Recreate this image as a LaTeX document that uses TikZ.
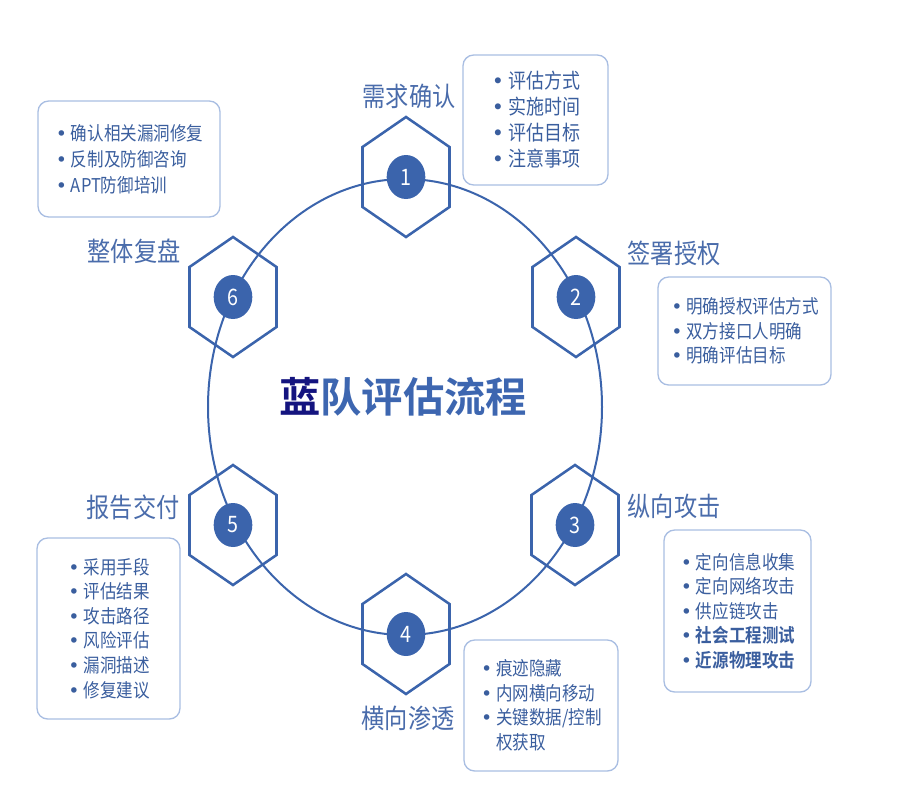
\documentclass[tikz,border=0pt]{standalone}
\usepackage{fontspec}
\setmainfont{Noto Sans CJK SC}[BoldFont={Noto Sans CJK SC Bold}]
\newfontfamily\tallfont{Noto Sans CJK SC}[FakeStretch=0.87, BoldFont={Noto Sans CJK SC Bold}]
\newfontfamily\dotfont{DejaVu Sans}
\usetikzlibrary{shapes.geometric,positioning}
\definecolor{ringblue}{HTML}{3B64AC}
\definecolor{boxline}{HTML}{A9BEE2}
\definecolor{listtext}{HTML}{3A5E9E}
\definecolor{steptext}{HTML}{4A6CAB}
\definecolor{navy}{HTML}{14147F}
\definecolor{titleblue}{HTML}{3D66B0}
\newcommand{\itm}{\makebox[0.85em][l]{\hspace{0.05em}{\dotfont\textbullet}}}

\begin{document}
\begin{tikzpicture}[
  x=0.75pt, y=-0.75pt,
  hexline/.style={draw=ringblue, line width=1.9pt, line join=miter},
  stepdot/.style={ellipse, fill=ringblue, minimum width=29pt, minimum height=33pt, inner sep=0pt, text=white, font=\tallfont\fontsize{17}{17}\selectfont},
  steplabel/.style={text=steptext, font=\tallfont\fontsize{20}{20}\selectfont},
  listbox/.style={draw=boxline, line width=1pt, rounded corners=8pt, align=left, text=listtext, inner sep=0pt, font=\tallfont\fontsize{14.25}{18.4}\selectfont}
]
  \useasboundingbox (0,0) rectangle (900,800);

  % ring and the six steps
  \draw[ringblue, line width=1.5pt] (405,407) ellipse [x radius=197, y radius=228];
  \foreach \n/\x/\y in {1/406/177, 2/576/297, 3/575/525, 4/406/634, 5/233/525, 6/233/297} {
    \coordinate (h\n) at (\x,\y);
    \draw[hexline] (h\n) ++(0,-60) -- ++(43.5,30) -- ++(0,60) -- ++(-43.5,30) -- ++(-43.5,-30) -- ++(0,-60) -- cycle;
    \node[stepdot] (n\n) at (h\n) {\n};
  }

  \node[text=titleblue, font=\bfseries\fontsize{31}{31}\selectfont] (title) at (403,397) {\textcolor{navy}{蓝}队评估流程};

  \node[steplabel] (t1) at (409,96) {需求确认};
  \node[steplabel] (t2) at (674,253) {签署授权};
  \node[steplabel] (t3) at (674,506) {纵向攻击};
  \node[steplabel] (t4) at (408,718) {横向渗透};
  \node[steplabel] (t5) at (133,507) {报告交付};
  \node[steplabel] (t6) at (134,251) {整体复盘};

  \node[listbox, minimum width=108.75pt, minimum height=97.5pt, font=\tallfont\fontsize{15.5}{19.5}\selectfont] (b1) at (535.5,120)
    {\itm 评估方式\\\itm 实施时间\\\itm 评估目标\\\itm 注意事项};
  \node[listbox, minimum width=129.75pt, minimum height=81pt] (b2) at (744.5,331)
    {\itm 明确授权评估方式\\\itm 双方接口人明确\\\itm 明确评估目标};
  \node[listbox, minimum width=110.25pt, minimum height=121.5pt] (b3) at (737.5,611)
    {\itm 定向信息收集\\\itm 定向网络攻击\\\itm 供应链攻击\\\itm \textbf{社会工程测试}\\\itm \textbf{近源物理攻击}};
  \node[listbox, minimum width=115.5pt, minimum height=98.25pt] (b4) at (541,705.5)
    {\itm 痕迹隐藏\\\itm 内网横向移动\\\itm 关键数据/控制\\\hspace*{0.85em}权获取};
  \node[listbox, minimum width=107.25pt, minimum height=135.75pt] (b5) at (108.5,628.5)
    {\itm 采用手段\\\itm 评估结果\\\itm 攻击路径\\\itm 风险评估\\\itm 漏洞描述\\\itm 修复建议};
  \node[listbox, minimum width=136.5pt, minimum height=87pt, font=\tallfont\fontsize{14.25}{19.5}\selectfont] (b6) at (129,159)
    {\itm 确认相关漏洞修复\\\itm 反制及防御咨询\\\itm APT防御培训};
\end{tikzpicture}
\end{document}
